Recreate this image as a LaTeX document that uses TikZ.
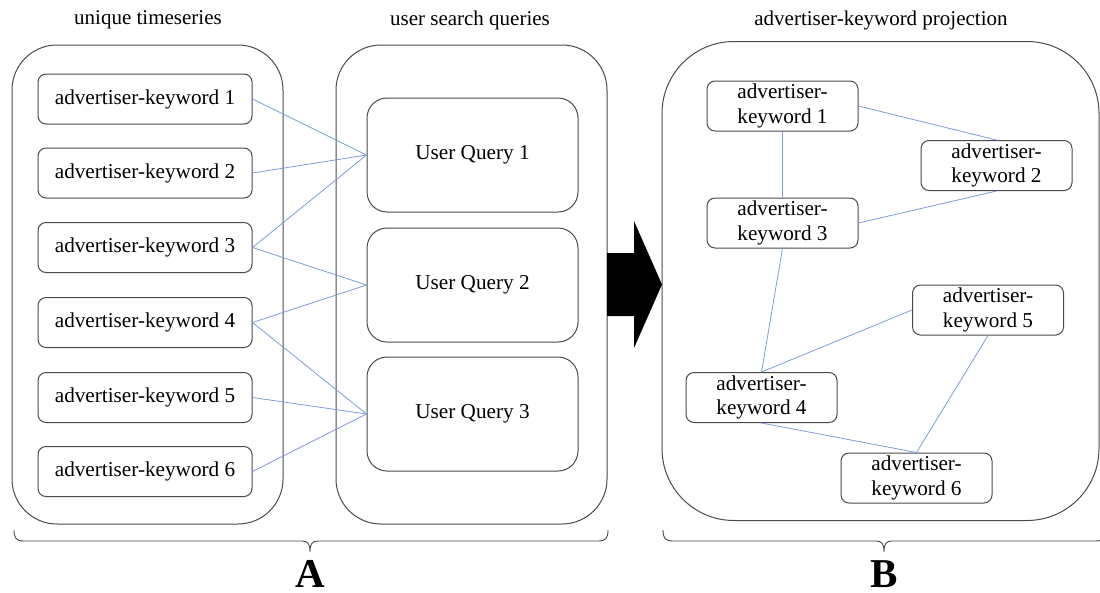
\documentclass[tikz,border=0pt]{standalone}
\usepackage{fontspec}
\setmainfont{Liberation Serif}
\definecolor{edgeblue}{HTML}{7F9CD8}
\definecolor{boxgray}{HTML}{4A4A4A}
\tikzset{
  panel/.style={draw=boxgray, line width=1pt, minimum width=#1, inner sep=0pt},
  kwbox/.style={draw=boxgray, line width=1pt, rounded corners=8pt,
    minimum width=214pt, minimum height=50pt, inner sep=0pt,
    font=\fontsize{21.2}{24}\selectfont},
  qbox/.style={draw=boxgray, line width=1pt, rounded corners=20pt,
    minimum width=211pt, minimum height=114pt, inner sep=0pt,
    font=\fontsize{21.2}{24}\selectfont},
  pbox/.style={draw=boxgray, line width=1pt, rounded corners=8pt,
    minimum width=151pt, minimum height=50pt, inner sep=0pt, align=center,
    font=\fontsize{21.2}{24.5}\selectfont},
  title/.style={font=\fontsize{21}{24}\selectfont, inner sep=0pt},
  edge/.style={draw=edgeblue, line width=0.8pt},
  bracepath/.style={draw=boxgray, line width=0.9pt},
  biglabel/.style={font=\bfseries\fontsize{41}{41}\selectfont, inner sep=0pt, anchor=base}
}
\begin{document}
\begin{tikzpicture}[x=1pt, y=-1pt]
\useasboundingbox (0,0) rectangle (1100,592);

% titles
\node[title] (t1) at (148,20) {unique timeseries};
\node[title] (t2) at (470,20) {user search queries};
\node[title] (t3) at (881,20) {advertiser-keyword projection};

% group panels
\node[panel=271pt, minimum height=479pt, rounded corners=45pt] (P1) at (147.5,284.5) {};
\node[panel=271pt, minimum height=479pt, rounded corners=45pt] (P2) at (471.5,284.5) {};
\node[panel=437pt, minimum height=479pt, rounded corners=72pt] (P3) at (880.5,281) {};

% advertiser-keyword timeseries
\node[kwbox] (k1) at (145,99) {advertiser-keyword 1};
\node[kwbox] (k2) at (145,173) {advertiser-keyword 2};
\node[kwbox] (k3) at (145,247.5) {advertiser-keyword 3};
\node[kwbox] (k4) at (145,322.5) {advertiser-keyword 4};
\node[kwbox] (k5) at (145,397.5) {advertiser-keyword 5};
\node[kwbox] (k6) at (145,471.5) {advertiser-keyword 6};

% user queries
\node[qbox] (q1) at (472.5,155) {User Query 1};
\node[qbox] (q2) at (472.5,285) {User Query 2};
\node[qbox] (q3) at (472.5,414) {User Query 3};

% keyword -> query links
\draw[edge] (k1.east) -- (q1.west);
\draw[edge] (k2.east) -- (q1.west);
\draw[edge] (k3.east) -- (q1.west);
\draw[edge] (k3.east) -- (q2.west);
\draw[edge] (k4.east) -- (q2.west);
\draw[edge] (k4.east) -- (q3.west);
\draw[edge] (k5.east) -- (q3.west);
\draw[edge] (k6.east) -- (q3.west);

% block arrow
\fill[black] (607,253) -- (634,253) -- (634,221) -- (662,284.5)
  -- (634,348) -- (634,316) -- (607,316) -- cycle;

% projection graph
\node[pbox] (a1) at (782.5,106) {advertiser-\\keyword 1};
\node[pbox] (a2) at (996.5,165.5) {advertiser-\\keyword 2};
\node[pbox] (a3) at (782.5,223) {advertiser-\\keyword 3};
\node[pbox] (a4) at (761.5,397.5) {advertiser-\\keyword 4};
\node[pbox] (a5) at (988,310) {advertiser-\\keyword 5};
\node[pbox] (a6) at (916.5,478) {advertiser-\\keyword 6};

\draw[edge] (a1.east) -- (a2.north);
\draw[edge] (a1.south) -- (a3.north);
\draw[edge] (a3.east) -- (a2.south);
\draw[edge] (a3.south) -- (a4.north);
\draw[edge] (a4.north) -- (a5.west);
\draw[edge] (a5.south) -- (a6.north);
\draw[edge] (a4.south) -- (a6.north);

% braces
\draw[bracepath] (14,530) .. controls (14,538) and (16,541) .. (24,541)
  -- (302,541) .. controls (308,541) and (310,544) .. (310,552)
  .. controls (310,544) and (312,541) .. (318,541)
  -- (598,541) .. controls (606,541) and (608,538) .. (608,530);
\draw[bracepath] (663,530) .. controls (663,538) and (665,541) .. (673,541)
  -- (876,541) .. controls (882,541) and (884,544) .. (884,552)
  .. controls (884,544) and (886,541) .. (892,541)
  -- (1095,541) .. controls (1103,541) and (1105,538) .. (1105,530);

\node[biglabel] (lA) at (310,587) {A};
\node[biglabel] (lB) at (884,587) {B};
\end{tikzpicture}
\end{document}
